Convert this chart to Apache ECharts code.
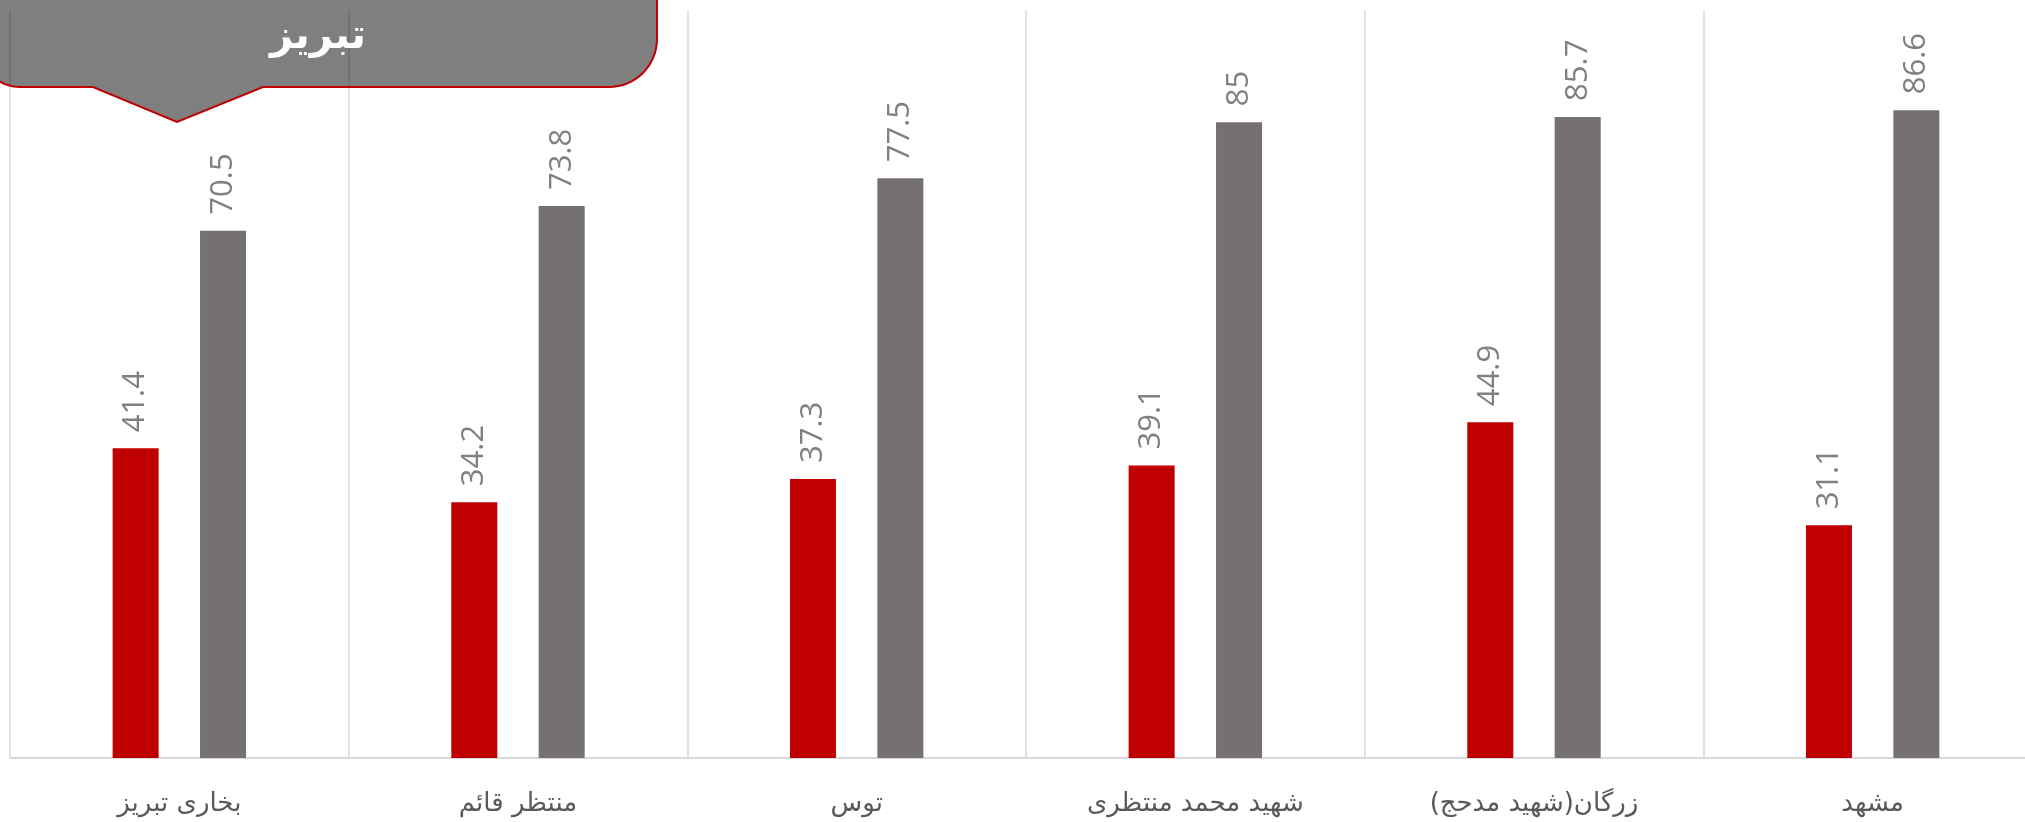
<!DOCTYPE html>
<html>
<head>
<meta charset="utf-8">
<script src="https://cdn.jsdelivr.net/npm/echarts@6/dist/echarts.min.js"></script>
<style>
  html, body { margin: 0; padding: 0; background: #ffffff; overflow: hidden; }
  /* plot area runs a little past the right edge of the window */
  #chart { width: 2042px; height: 822px; }
</style>
</head>
<body>
<div id="chart"></div>
<script>
// Site names along the category axis (left to right)
const categories = ['بخاری تبریز', 'منتظر قائم', 'توس', 'شهید محمد منتظری', 'زرگان(شهید مدحج)\u200F', 'مشهد'];
// Red bars
const redValues = [41.4, 34.2, 37.3, 39.1, 44.9, 31.1];
// Gray bars
const grayValues = [70.5, 73.8, 77.5, 85, 85.7, 86.6];
// Callout title
const calloutTitle = 'تبریز';

// Callout outline: rectangle with rounded lower corners and a downward pointer
function arcPoints(cx, cy, r, a0, a1, n) {
  const pts = [];
  for (let i = 0; i <= n; i++) {
    const a = a0 + (a1 - a0) * i / n;
    pts.push([cx + r * Math.cos(a), cy + r * Math.sin(a)]);
  }
  return pts;
}
const calloutPoints = [].concat(
  [[-20, -6], [657, -6]],
  arcPoints(609, 39, 48, 0, Math.PI / 2, 16),
  [[263, 87], [177, 122], [93, 87]],
  arcPoints(20, 47, 40, Math.PI / 2, Math.PI, 16)
);

const labelStyle = {
  show: true,
  position: 'top',
  rotate: 90,
  align: 'left',
  verticalAlign: 'middle',
  distance: 16,
  color: '#808080',
  fontSize: 31,
  fontFamily: 'Open Sans'
};

const chart = echarts.init(document.getElementById('chart'), null, { renderer: 'canvas' });
chart.setOption({
  backgroundColor: '#ffffff',
  animation: false,
  grid: { left: 10, top: 10, right: 0, bottom: 64, containLabel: false },
  xAxis: {
    type: 'category',
    data: categories,
    boundaryGap: true,
    axisLine: { show: true, lineStyle: { color: '#d9d9d9', width: 2 } },
    axisTick: { show: false },
    splitLine: { show: true, lineStyle: { color: '#d9d9d9', width: 1.5 } },
    axisLabel: {
      interval: 0,
      margin: 33,
      color: '#595959',
      fontSize: 26,
      fontFamily: 'DejaVu Sans'
    }
  },
  yAxis: {
    type: 'value',
    min: 0,
    max: 100,
    show: false,
    splitLine: { show: false }
  },
  series: [
    {
      name: 'first',
      type: 'bar',
      data: redValues,
      barWidth: 46,
      barGap: '90%',
      itemStyle: { color: '#c00000' },
      label: labelStyle
    },
    {
      name: 'second',
      type: 'bar',
      data: grayValues,
      barWidth: 46,
      barGap: '90%',
      itemStyle: { color: '#767171' },
      label: labelStyle
    }
  ],
  graphic: [
    {
      type: 'polygon',
      z: 100,
      shape: { points: calloutPoints },
      style: { fill: 'rgba(0,0,0,0.5)', stroke: '#c00000', lineWidth: 2 }
    },
    {
      type: 'text',
      z: 101,
      x: 318,
      y: 38,
      style: {
        text: calloutTitle,
        fill: '#ffffff',
        font: 'bold 40px "DejaVu Sans"',
        align: 'center',
        verticalAlign: 'middle'
      }
    }
  ]
});
</script>
</body>
</html>
